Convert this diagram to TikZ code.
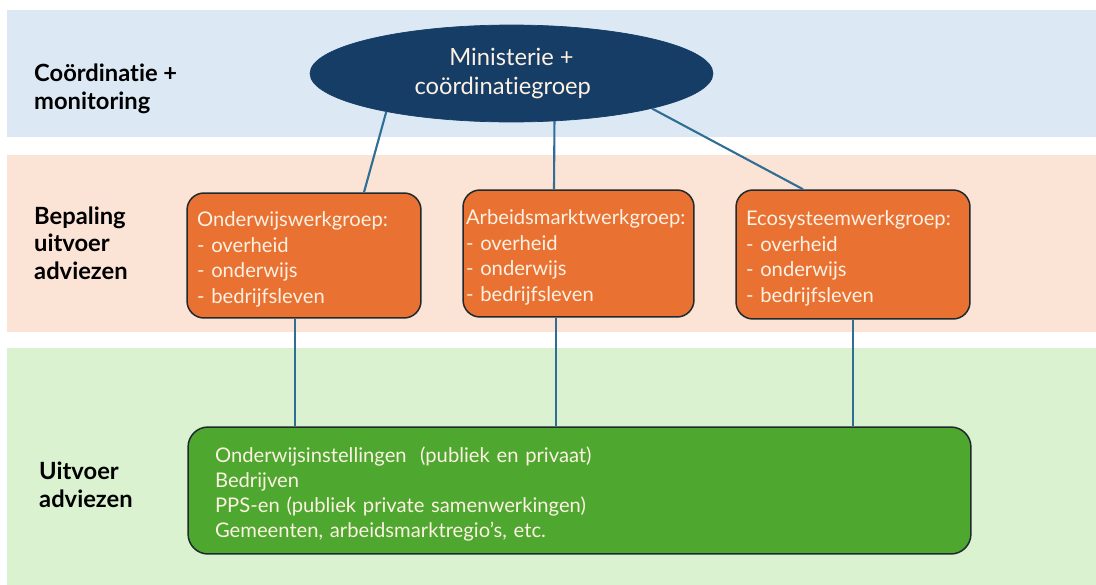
\documentclass[tikz,border=0pt]{standalone}
\usepackage{fontspec}
\setmainfont{Lato}[Ligatures=NoCommon]
\usetikzlibrary{shapes.geometric}

\definecolor{bandblue}{HTML}{DCE9F5}
\definecolor{bandpink}{HTML}{FBE3D6}
\definecolor{bandgreen}{HTML}{DAF2D0}
\definecolor{navy}{HTML}{163D66}
\definecolor{oranje}{HTML}{E97132}
\definecolor{groen}{HTML}{4EA72E}
\definecolor{lijn}{HTML}{2F6F94}
\definecolor{rand}{HTML}{1E2A2E}
\definecolor{tekst}{HTML}{FDF1E4}

\tikzset{
  laag/.style={anchor=west, align=left, font=\fontsize{13.5}{15.6}\selectfont\bfseries},
  werkgroep/.style={draw=rand, line width=0.85pt, fill=oranje, rounded corners=0.34cm,
    text=tekst, align=left, text width=4.28cm, inner xsep=0.2cm,
    font=\fontsize{11.5}{14.6}\selectfont},
  uitvoering/.style={draw=rand, line width=0.85pt, fill=groen, rounded corners=0.4cm,
    text=tekst, align=left, text width=14.58cm, inner xsep=0.54cm,
    font=\fontsize{11.5}{14.2}\selectfont},
  conn/.style={draw=lijn, line width=1.2pt}
}

\begin{document}
\begin{tikzpicture}[x=0.02cm, y=-0.02cm]
    \useasboundingbox (0,0) rectangle (1096,585);

    % Bands
    \fill[bandblue] (7,10) rectangle (1096,137);
    \fill[bandpink] (7,155) rectangle (1096,332);
    \fill[bandgreen] (7,348) rectangle (1096,585);

    % Left labels
    \node[laag] (lblcoord) at (28,89) {Coördinatie +\\monitoring};
    \node[laag] (lblbepaling) at (28,243) {Bepaling\\uitvoer\\adviezen};
    \node[laag] (lbluitvoer) at (33,485) {Uitvoer\\adviezen};

    % Ministerie
    \node[ellipse, draw=navy, fill=navy, text=tekst, minimum width=8.06cm, minimum height=1.94cm,
      align=center, font=\fontsize{13.5}{17}\selectfont] (min) at (511.5,73.5)
      {Ministerie +\\coördinatiegroep\hspace*{0.35cm}};

    % Werkgroepen
    \node[werkgroep, minimum width=4.68cm, minimum height=2.5cm] (onderwijs) at (304,255.5)
      {\rule{0pt}{13pt}Onderwijswerkgroep:\\- overheid\\- onderwijs\\- bedrijfsleven};
    \node[werkgroep, minimum width=4.62cm, minimum height=2.54cm, text width=4.5cm, inner xsep=0.06cm] (arbeid) at (578.5,253.5)
      {\rule{0pt}{13pt}Arbeidsmarktwerkgroep:\\- overheid\\- onderwijs\\- bedrijfsleven};
    \node[werkgroep, minimum width=4.64cm, minimum height=2.58cm] (eco) at (853,254.5)
      {\rule{0pt}{13pt}Ecosysteemwerkgroep:\\- overheid\\- onderwijs\\- bedrijfsleven};

    % Uitvoering
    \node[uitvoering, minimum width=15.66cm, minimum height=2.54cm] (uitvoer) at (579.5,490.5)
      {\rule{0pt}{13pt}Onderwijsinstellingen \ (publiek en privaat)\\Bedrijven\\PPS-en (publiek private samenwerkingen)\\Gemeenten, arbeidsmarktregio’s, etc.};

    % Connectors
    \draw[conn] (min.197) -- ([xshift=1.2cm]onderwijs.north);
    \draw[conn] (min.312) -- ([xshift=-0.49cm]arbeid.north);
    \draw[conn] (min.346) -- ([xshift=-1cm]eco.north);
    \draw[conn] ([xshift=-0.18cm]onderwijs.south) -- ([xshift=-0.18cm]onderwijs.south |- uitvoer.north);
    \draw[conn] ([xshift=-0.45cm]arbeid.south) -- ([xshift=-0.45cm]arbeid.south |- uitvoer.north);
    \draw[conn] (eco.south) -- (eco.south |- uitvoer.north);
\end{tikzpicture}
\end{document}
